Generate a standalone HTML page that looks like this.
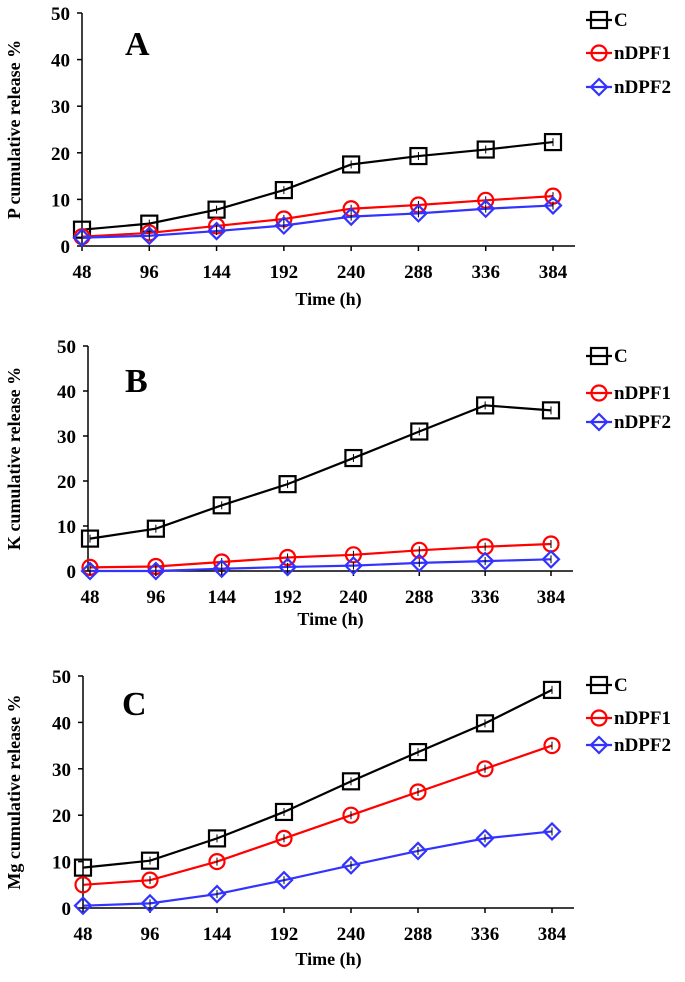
<!DOCTYPE html>
<html><head><meta charset="utf-8"><style>
body{margin:0;background:#fff;}
svg{display:block;font-family:"Liberation Serif",serif;font-weight:bold;}
</style></head><body>
<svg id="chart" width="685" height="982" viewBox="0 0 685 982" xmlns="http://www.w3.org/2000/svg"></svg>
<script>
const xCategories=[48,96,144,192,240,288,336,384];
const yTicks=[0,10,20,30,40,50];
const seriesNames=["C","nDPF1","nDPF2"];
const pC=[3.5,4.8,7.8,12,17.5,19.3,20.7,22.3];
const pN1=[2,2.8,4.3,5.8,8,8.8,9.8,10.7];
const pN2=[1.8,2.2,3.2,4.4,6.3,7,8,8.7];
const kC=[7.2,9.4,14.6,19.3,25.1,31,36.8,35.7];
const kN1=[0.8,1,2,3,3.6,4.6,5.4,6];
const kN2=[0,0,0.5,0.9,1.2,1.8,2.2,2.6];
const mC=[8.7,10.2,15,20.7,27.3,33.6,39.8,47];
const mN1=[5,6,10,15,20,25,30,35];
const mN2=[0.5,1,3,6,9.2,12.3,15,16.5];

const svg=document.getElementById('chart');
const NS="http://www.w3.org/2000/svg";
function mk(tag,attrs,parent){const e=document.createElementNS(NS,tag);for(const k in attrs)e.setAttribute(k,attrs[k]);(parent||svg).appendChild(e);return e;}
const colors=["#000","#f00","#33f"];
function marker(g,type,x,y,c){
  let m;
  if(type===0)m=mk('rect',{x:x-8,y:y-8,width:16,height:16,fill:'none',stroke:c,'stroke-width':2.2},g);
  else if(type===1)m=mk('circle',{cx:x,cy:y,r:7.5,fill:'none',stroke:c,'stroke-width':2.2},g);
  else m=mk('polygon',{points:`${x},${y-8} ${x+8},${y} ${x},${y+8} ${x-8},${y}`,fill:'none',stroke:c,'stroke-width':2.2},g);
  return m;
}
const panels=[
 {id:'a',letter:'A',ytitle:'P cumulative release  %',y50:13,y0:246,x48:82,x384:553,xEnd:575,ax:82,letterX:125,letterY:55,xTitleY:305,legY:[20,53,87],series:[pC,pN1,pN2]},
 {id:'b',letter:'B',ytitle:'K cumulative release  %',y50:346,y0:571,x48:90,x384:551,xEnd:573,ax:88,letterX:125,letterY:392,xTitleY:625,legY:[356,393,422],series:[kC,kN1,kN2]},
 {id:'c',letter:'C',ytitle:'Mg cumulative release  %',y50:676,y0:908,x48:83,x384:552,xEnd:574,ax:83,letterX:122,letterY:715,xTitleY:965,legY:[685,718,745],series:[mC,mN1,mN2]}
];
panels.forEach(p=>{
  const g=mk('g',{});
  
  
  const xs=v=>p.x48+(v-48)/(384-48)*(p.x384-p.x48);
  const ys=v=>p.y0-(v/50)*(p.y0-p.y50);
  const ya=mk('line',{x1:p.ax,y1:p.y50,x2:p.ax,y2:p.y0,stroke:'#000','stroke-width':1.5},g);
  
  
  const xa=mk('line',{x1:p.ax,y1:p.y0,x2:p.xEnd,y2:p.y0,stroke:'#000','stroke-width':1.5},g);
  
  
  yTicks.forEach(t=>{
    mk('line',{x1:p.ax-5,y1:ys(t),x2:p.ax,y2:ys(t),stroke:'#000','stroke-width':1.5},g);
    const tx=mk('text',{x:p.ax-12,y:ys(t)+7,'text-anchor':'end','font-size':19},g);
    tx.textContent=t;
    
    
  });
  xCategories.forEach(c=>{
    mk('line',{x1:xs(c),y1:p.y0,x2:xs(c),y2:p.y0+5,stroke:'#000','stroke-width':1.5},g);
    const tx=mk('text',{x:xs(c),y:p.y0+32,'text-anchor':'middle','font-size':19},g);
    tx.textContent=c;
    
    
  });
  const xt=mk('text',{x:(p.ax+p.xEnd)/2,y:p.xTitleY,'text-anchor':'middle','font-size':18},g);
  xt.textContent='Time (h)';
  
  
  const yc=(p.y50+p.y0)/2;
  const yt=mk('text',{x:20,y:yc,'text-anchor':'middle','font-size':18,transform:`rotate(-90 20 ${yc})`},g);
  yt.textContent=p.ytitle;
  
  
  const lt=mk('text',{x:p.letterX,y:p.letterY,'font-size':34},g);
  lt.textContent=p.letter;
  
  
  p.series.forEach((vals,si)=>{
    const sg=mk('g',{},g);
    
    
    const pl=mk('polyline',{points:vals.map((v,i)=>xs(xCategories[i])+','+ys(v)).join(' '),fill:'none',stroke:colors[si],'stroke-width':2.2},sg);
    
    
    vals.forEach((v,i)=>{
      const m=marker(sg,si,xs(xCategories[i]),ys(v),colors[si]);
      
      
      mk('line',{x1:xs(xCategories[i]),y1:ys(v)-4,x2:xs(xCategories[i]),y2:ys(v)+4,stroke:'#000','stroke-width':1},sg);
    });
    const ly=p.legY[si];
    const le=mk('g',{},g);
    
    
    mk('line',{x1:586,y1:ly,x2:612,y2:ly,stroke:colors[si],'stroke-width':2.2},le);
    marker(le,si,599,ly,colors[si]);
    const ltx=mk('text',{x:614,y:ly+6,'font-size':19},le);
    ltx.textContent=seriesNames[si];
  });
});
</script>
</body></html>
